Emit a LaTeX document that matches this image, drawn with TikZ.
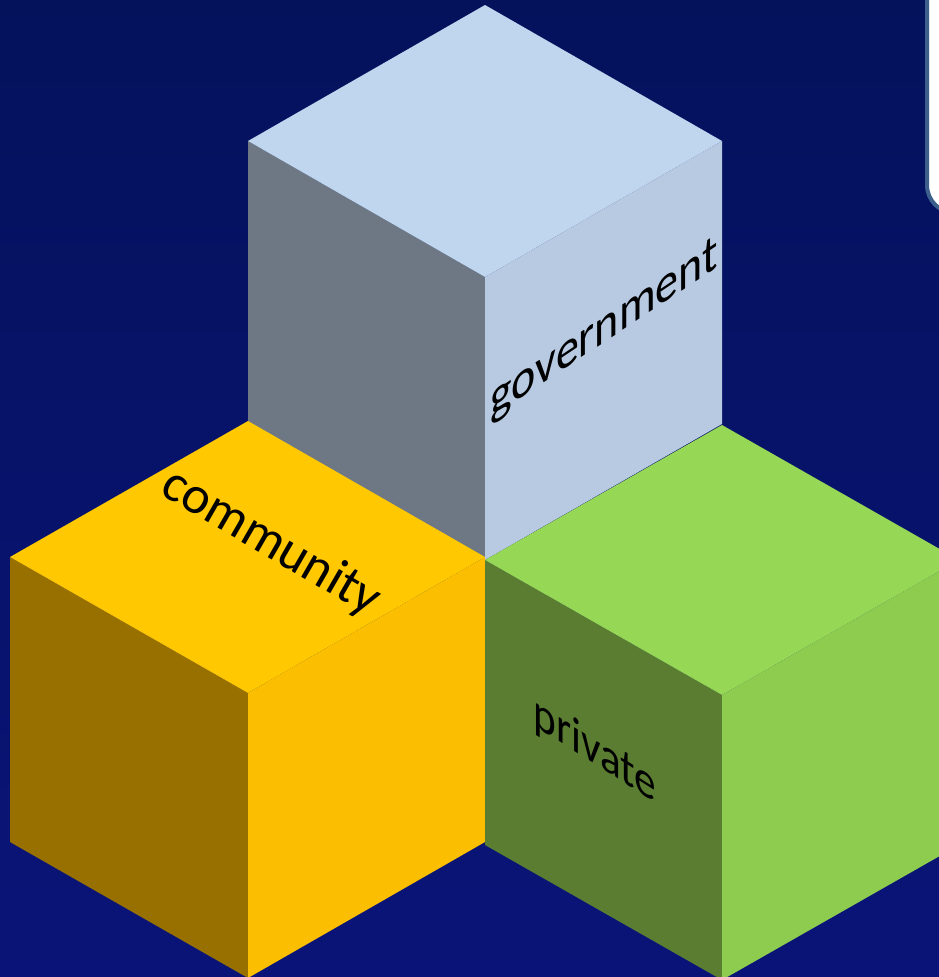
\documentclass[tikz,border=0pt]{standalone}
\usepackage{fontspec}
\setmainfont{Carlito}
\definecolor{bgtop}{RGB}{4,18,92}
\definecolor{bgbot}{RGB}{10,20,120}
\definecolor{govtop}{RGB}{192,214,238}
\definecolor{govleft}{RGB}{110,120,133}
\definecolor{govright}{RGB}{184,202,226}
\definecolor{yeltop}{RGB}{255,200,0}
\definecolor{yelleft}{RGB}{152,112,0}
\definecolor{yelright}{RGB}{252,190,0}
\definecolor{grntop}{RGB}{150,215,85}
\definecolor{grnleft}{RGB}{90,125,50}
\definecolor{grnright}{RGB}{142,204,80}
\definecolor{boxedge}{RGB}{60,95,140}
\tikzset{
  cubelabel/.style={text=black, inner sep=0pt, anchor=base},
}
\begin{document}
\begin{tikzpicture}[x=1pt,y=-1pt]
\useasboundingbox (0,0) rectangle (939,977);
\clip (0,0) rectangle (939,977);
\fill[top color=bgtop, bottom color=bgbot] (0,0) rectangle (939,977);
% partial box top right
\draw[boxedge, line width=4pt, fill=white, rounded corners=28pt] (927,-40) rectangle (1010,213);
% government cube
\fill[govleft] (248,141) -- (485,277) -- (485,560) -- (248,424) -- cycle;
\fill[govright] (485,277) -- (722,141) -- (722,424) -- (485,560) -- cycle;
\fill[govtop] (485,5) -- (722,141) -- (485,277) -- (248,141) -- cycle;
% community cube
\fill[yelleft] (10,557) -- (248,693) -- (248,978) -- (10,842) -- cycle;
\fill[yelright] (248,693) -- (485,557) -- (485,842) -- (248,978) -- cycle;
\fill[yeltop] (248,421) -- (485,557) -- (248,693) -- (10,557) -- cycle;
% private cube
\fill[grnleft] (485,560) -- (722,695) -- (722,980) -- (485,845) -- cycle;
\fill[grnright] (722,695) -- (959,560) -- (959,845) -- (722,980) -- cycle;
\fill[grntop] (722,425) -- (959,560) -- (722,695) -- (485,560) -- cycle;
% labels
\node[cubelabel, font=\fontsize{53}{58}\selectfont, xscale=0.866, yslant=0.577] (gov) at (604,343) {government};
\node[cubelabel, font=\fontsize{53}{58}\selectfont, rotate=-30] (com) at (264,555) {community};
\node[cubelabel, font=\fontsize{50}{55}\selectfont, xscale=0.866, yslant=-0.55] (pri) at (595,764) {private};
\end{tikzpicture}
\end{document}
